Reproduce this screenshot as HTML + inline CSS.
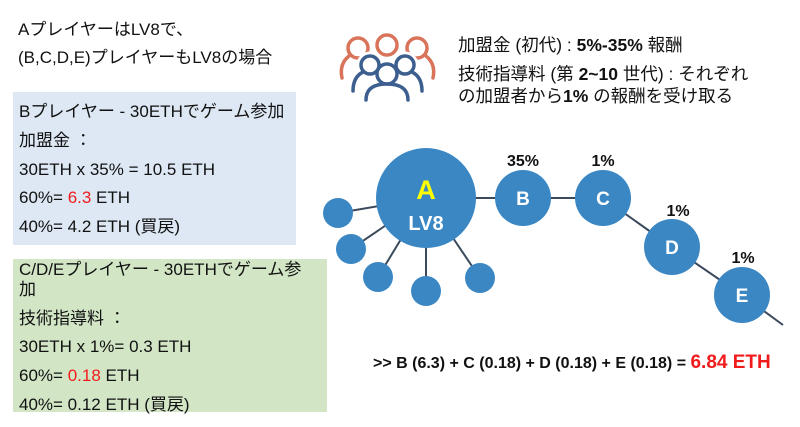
<!DOCTYPE html>
<html><head><meta charset="utf-8"><style>
body{margin:0;width:800px;height:427px;background:#fff;position:relative;overflow:hidden;font-family:"Liberation Sans","Noto Sans CJK JP",sans-serif;color:#111}
.t{position:absolute;white-space:nowrap;font-size:17px;line-height:20px}
.box{position:absolute}
.r{color:#f01c1c}
b{font-weight:bold}
</style></head><body>
<div class="t" style="left:18px;top:20px">AプレイヤーはLV8で、</div>
<div class="t" style="left:18px;top:48px">(B,C,D,E)プレイヤーもLV8の場合</div>

<div class="box" style="left:13px;top:92px;width:283px;height:153px;background:#dde8f4"></div>
<div class="t" style="left:19px;top:102px">Bプレイヤー - 30ETHでゲーム参加</div>
<div class="t" style="left:19px;top:131px">加盟金 ：</div>
<div class="t" style="left:19px;top:160px">30ETH x 35% = 10.5 ETH</div>
<div class="t" style="left:19px;top:188px">60%= <span class="r">6.3</span> ETH</div>
<div class="t" style="left:19px;top:217px">40%= 4.2 ETH (買戻)</div>

<div class="box" style="left:13px;top:259px;width:314px;height:153px;background:#d2e6c6"></div>
<div class="t" style="left:19px;top:260px">C/D/Eプレイヤー - 30ETHでゲーム参</div>
<div class="t" style="left:19px;top:280px">加</div>
<div class="t" style="left:19px;top:309px">技術指導料 ：</div>
<div class="t" style="left:19px;top:337px">30ETH x 1%= 0.3 ETH</div>
<div class="t" style="left:19px;top:366px">60%= <span class="r">0.18</span> ETH</div>
<div class="t" style="left:19px;top:395px">40%= 0.12 ETH (買戻)</div>

<svg style="position:absolute;left:0;top:0" width="800" height="427">
<g fill="none" stroke-width="3.5" stroke-linecap="round">
 <g stroke="#d9735a">
  <circle cx="358" cy="48" r="10"/><circle cx="387" cy="45" r="10"/><circle cx="417" cy="48" r="10"/>
  <path d="M349 56 q-10 8 -7 22"/><path d="M426 56 q10 8 7 22"/>
 </g>
 <g stroke="#fff" stroke-width="9" fill="#fff">
  <circle cx="370" cy="65" r="9"/><circle cx="405" cy="65" r="9"/><circle cx="387" cy="74" r="10"/>
 </g>
 <g stroke="#3d5f8f">
  <circle cx="370" cy="65" r="9"/><path d="M353 91 q0 -14 10 -19"/>
  <circle cx="405" cy="65" r="9"/><path d="M422 91 q0 -14 -10 -19"/>
  <circle cx="387" cy="74" r="10"/><path d="M366 100 q0 -16 21 -16 q21 0 21 16"/>
 </g>
</g>
<g stroke="#3a4a5c" stroke-width="2">
 <line x1="426" y1="198" x2="523" y2="198"/>
 <line x1="523" y1="198" x2="603" y2="198"/>
 <line x1="603" y1="198" x2="672" y2="247"/>
 <line x1="672" y1="247" x2="742" y2="295"/>
 <line x1="742" y1="295" x2="783" y2="325"/>
 <line x1="426" y1="198" x2="338" y2="213"/>
 <line x1="426" y1="198" x2="351" y2="249"/>
 <line x1="426" y1="198" x2="378" y2="277"/>
 <line x1="426" y1="198" x2="426" y2="291"/>
 <line x1="426" y1="198" x2="480" y2="278"/>
</g>
<g fill="#3b87c4">
 <circle cx="426" cy="198" r="50"/>
 <circle cx="523" cy="198" r="28"/><circle cx="603" cy="198" r="28"/>
 <circle cx="672" cy="247" r="28"/><circle cx="742" cy="295" r="28"/>
 <circle cx="338" cy="213" r="15"/><circle cx="351" cy="249" r="15"/>
 <circle cx="378" cy="277" r="15"/><circle cx="426" cy="291" r="15"/>
 <circle cx="480" cy="278" r="15"/>
</g>
<g font-family="Liberation Sans,sans-serif" font-weight="bold" text-anchor="middle">
 <text x="426" y="199" font-size="27" fill="#ffff00">A</text>
 <text x="426" y="230" font-size="20" fill="#fff">LV8</text>
 <text x="523" y="205" font-size="19" fill="#fff">B</text>
 <text x="603" y="205" font-size="19" fill="#fff">C</text>
 <text x="672" y="254" font-size="19" fill="#fff">D</text>
 <text x="742" y="302" font-size="19" fill="#fff">E</text>
 <text x="523" y="166" font-size="16" fill="#111">35%</text>
 <text x="603" y="166" font-size="16" fill="#111">1%</text>
 <text x="678" y="216" font-size="16" fill="#111">1%</text>
 <text x="743" y="263" font-size="16" fill="#111">1%</text>
</g>
</svg>

<div class="t" style="left:458px;top:35px;font-size:17.5px">加盟金 (初代) : <b>5%-35%</b> 報酬</div>
<div class="t" style="left:458px;top:64px;font-size:17.5px">技術指導料 (第 <b>2~10</b> 世代) : それぞれ</div>
<div class="t" style="left:458px;top:86px;font-size:17.5px">の加盟者から<b>1%</b> の報酬を受け取る</div>

<div class="t" style="left:373px;top:353px;font-weight:bold;font-size:16px">&gt;&gt; B (6.3) + C (0.18) + D (0.18) + E (0.18) = <span class="r" style="font-size:19px">6.84 ETH</span></div>
</body></html>
